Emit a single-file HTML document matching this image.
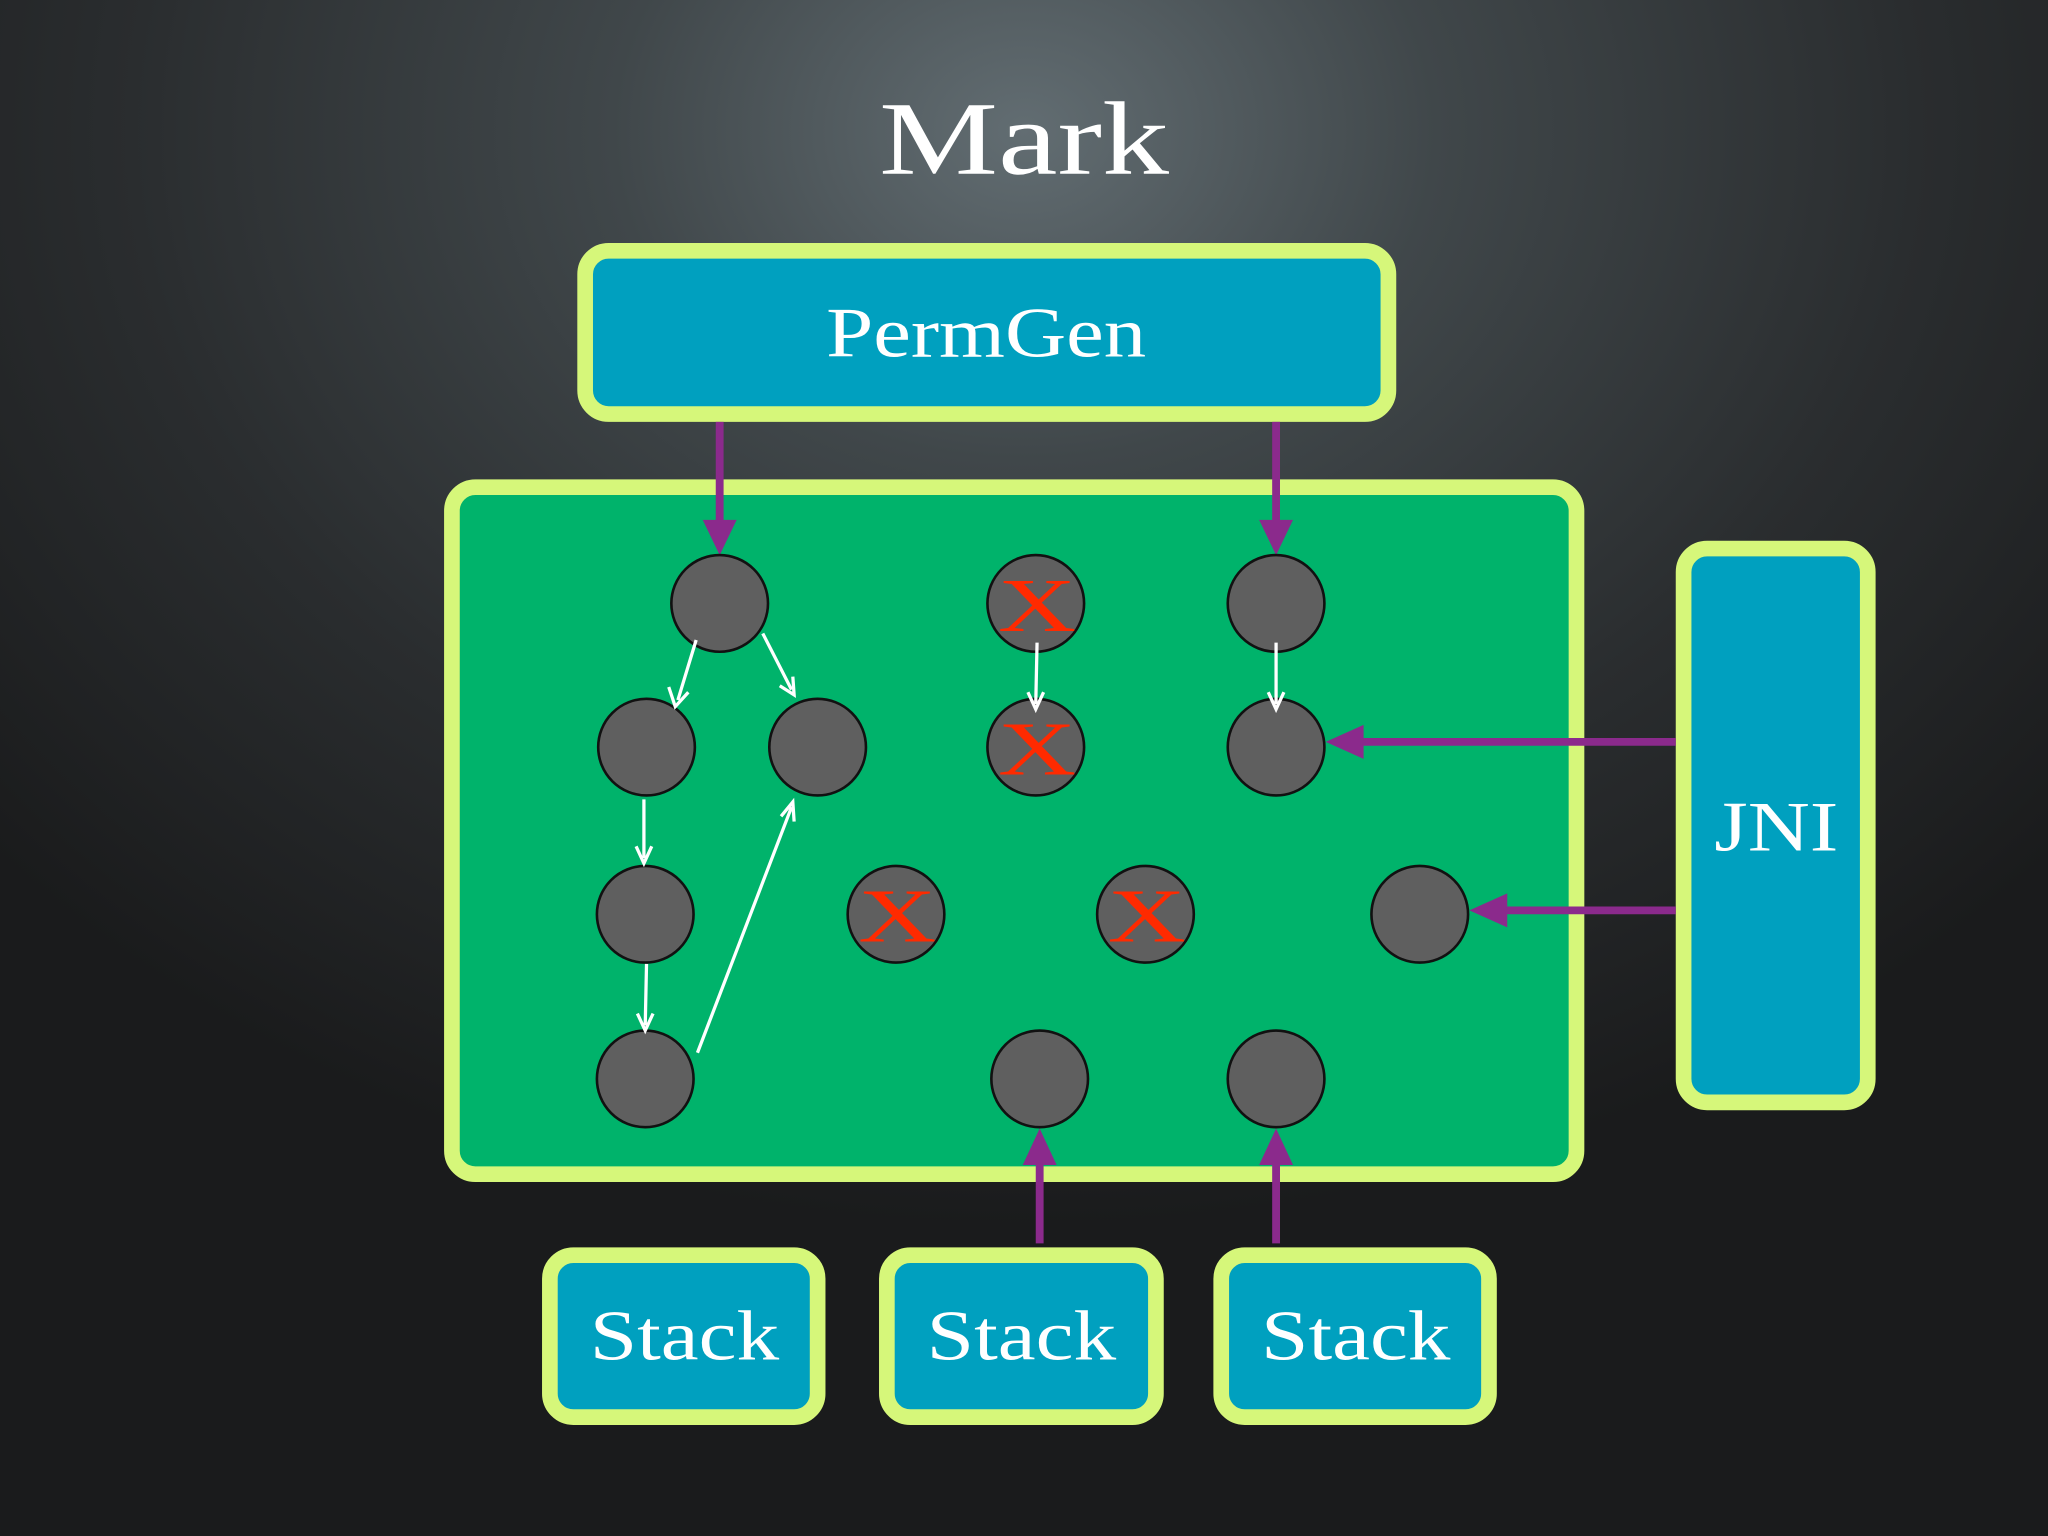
<!DOCTYPE html>
<html><head><meta charset="utf-8"><style>
html,body{margin:0;padding:0;background:#1e2022;}
svg{display:block}
</style></head><body>
<svg width="2048" height="1536" viewBox="0 0 1568 1176" preserveAspectRatio="none" xmlns="http://www.w3.org/2000/svg">
<defs>
<radialGradient id="bg" cx="784" cy="100" r="1050" gradientUnits="userSpaceOnUse" gradientTransform="translate(784 100) scale(1 0.8) translate(-784 -100)">
<stop offset="0" stop-color="#626d72"/>
<stop offset="0.3" stop-color="#40474a"/>
<stop offset="0.65" stop-color="#2a2d2f"/>
<stop offset="1" stop-color="#1a1b1c"/>
</radialGradient>
</defs>
<rect width="1568" height="1176" fill="url(#bg)"/>
<text x="784" y="133" text-anchor="middle" font-family="Liberation Serif, serif" font-size="80" fill="#fff" textLength="222" lengthAdjust="spacingAndGlyphs">Mark</text>

<!-- PermGen -->
<rect x="448" y="192" width="615" height="125" rx="18" fill="#00a0bf" stroke="#d6f77a" stroke-width="12"/>
<text x="755" y="273" text-anchor="middle" font-family="Liberation Serif, serif" font-size="54" fill="#fff" textLength="245" lengthAdjust="spacingAndGlyphs">PermGen</text>

<!-- Heap -->
<rect x="346" y="373" width="861" height="526" rx="18" fill="#00b36b" stroke="#d6f77a" stroke-width="12"/>

<!-- JNI -->
<rect x="1289" y="420" width="141" height="424" rx="18" fill="#00a0bf" stroke="#d6f77a" stroke-width="12"/>
<text x="1360" y="651" text-anchor="middle" font-family="Liberation Serif, serif" font-size="54" fill="#fff" textLength="95" lengthAdjust="spacingAndGlyphs">JNI</text>

<!-- Stacks -->
<g font-family="Liberation Serif, serif" font-size="54" fill="#fff" text-anchor="middle">
<rect x="421" y="961" width="205" height="124" rx="18" fill="#00a0bf" stroke="#d6f77a" stroke-width="12"/>
<text x="524" y="1041" textLength="145" lengthAdjust="spacingAndGlyphs">Stack</text>
<rect x="679" y="961" width="206" height="124" rx="18" fill="#00a0bf" stroke="#d6f77a" stroke-width="12"/>
<text x="782" y="1041" textLength="145" lengthAdjust="spacingAndGlyphs">Stack</text>
<rect x="935" y="961" width="205" height="124" rx="18" fill="#00a0bf" stroke="#d6f77a" stroke-width="12"/>
<text x="1038" y="1041" textLength="145" lengthAdjust="spacingAndGlyphs">Stack</text>
</g>

<!-- purple arrows -->
<g stroke="#8b2a8c" stroke-width="6" fill="#8b2a8c">
<line x1="551" y1="323" x2="551" y2="400"/><polygon stroke="none" points="538,398 564,398 551,425"/>
<line x1="977" y1="323" x2="977" y2="400"/><polygon stroke="none" points="964,398 990,398 977,425"/>
<line x1="1283" y1="568" x2="1040" y2="568"/><polygon stroke="none" points="1044,555 1044,581 1015,568"/>
<line x1="1283" y1="697" x2="1150" y2="697"/><polygon stroke="none" points="1154,684 1154,710 1125,697"/>
<line x1="796" y1="952" x2="796" y2="890"/><polygon stroke="none" points="783,892 809,892 796,864"/>
<line x1="977" y1="952" x2="977" y2="890"/><polygon stroke="none" points="964,892 990,892 977,864"/>
</g>

<!-- circles -->
<g fill="#5f5f5f" stroke="#111" stroke-width="2">
<circle cx="551" cy="462" r="37"/>
<circle cx="495" cy="572" r="37"/>
<circle cx="626" cy="572" r="37"/>
<circle cx="494" cy="700" r="37"/>
<circle cx="494" cy="826" r="37"/>
<circle cx="793" cy="462" r="37"/>
<circle cx="793" cy="572" r="37"/>
<circle cx="686" cy="700" r="37"/>
<circle cx="877" cy="700" r="37"/>
<circle cx="977" cy="462" r="37"/>
<circle cx="977" cy="572" r="37"/>
<circle cx="1087" cy="700" r="37"/>
<circle cx="796" cy="826" r="37"/>
<circle cx="977" cy="826" r="37"/>
</g>
<g font-family="Liberation Serif, serif" font-size="58" fill="#ff2a00" text-anchor="middle">
<text x="794" y="483" textLength="60" lengthAdjust="spacingAndGlyphs">X</text>
<text x="794" y="593" textLength="60" lengthAdjust="spacingAndGlyphs">X</text>
<text x="687" y="721" textLength="60" lengthAdjust="spacingAndGlyphs">X</text>
<text x="878" y="721" textLength="60" lengthAdjust="spacingAndGlyphs">X</text>
</g>

<!-- white arrows -->
<g stroke="#fff" stroke-width="2.5" fill="none">
<path d="M533,490 L519,536 M512,526 L517,541 L527,530"/>
<path d="M584,485 L606,528 M597,525 L608,532 L607,518"/>
<path d="M493,612 L493,657 M487,648 L493,661 L499,648"/>
<path d="M495,738 L494,785 M488,776 L494,789 L500,776"/>
<path d="M534,806 L606,618 M598,625 L607,614 L608,629"/>
<path d="M794,492 L793,539 M787,530 L793,543 L799,530"/>
<path d="M977,492 L977,539 M971,530 L977,543 L983,530"/>
</g>
</svg>
</body></html>
